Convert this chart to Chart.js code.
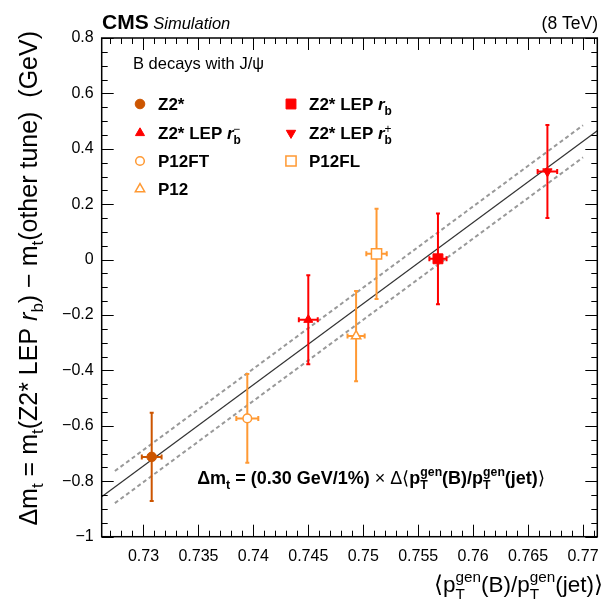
<!DOCTYPE html>
<html>
<head>
<meta charset="utf-8">
<title>Top mass shift vs B fragmentation (CMS Simulation)</title>
<script src="https://cdn.jsdelivr.net/npm/chart.js@4"></script>
<style>
  html, body { margin: 0; padding: 0; background: #fff; }
</style>
</head>
<body>
<canvas id="myChart" width="606" height="605"></canvas>

<script>
// values
var tuneNames  = ['Z2*', 'Z2* LEP r_b^-', 'P12FT', 'P12', 'Z2* LEP r_b', 'Z2* LEP r_b^+', 'P12FL'];
var ptRatio    = [0.73075, 0.74500, 0.73945, 0.74935, 0.75680, 0.76676, 0.75121];
var ptRatioErr = [0.00090, 0.00086, 0.00100, 0.00078, 0.00078, 0.00089, 0.00093];
var deltaMt    = [-0.712, -0.217, -0.573, -0.276, 0.003, 0.318, 0.021];
var deltaMtErr = [0.159, 0.161, 0.160, 0.163, 0.164, 0.168, 0.163];

// straight-line fit and its band (end points)
var fitX     = [0.7262, 0.7713];
var fitY     = [-0.856, 0.465];
var bandX    = [0.7274, 0.7700];
var bandUpY  = [-0.763, 0.485];
var bandLowY = [-0.879, 0.369];

// axes
var xRange = [0.7262, 0.7713];
var yRange = [-1, 0.8];
var xTicks = [0.73, 0.735, 0.74, 0.745, 0.75, 0.755, 0.76, 0.765, 0.77];
var xTickLabels = ['0.73', '0.735', '0.74', '0.745', '0.75', '0.755', '0.76', '0.765', '0.77'];
var yTicks = [-1, -0.8, -0.6, -0.4, -0.2, 0, 0.2, 0.4, 0.6, 0.8];
var yTickLabels = ['\u22121', '\u22120.8', '\u22120.6', '\u22120.4', '\u22120.2', '0', '0.2', '0.4', '0.6', '0.8'];

// marker look per tune
var DARK = '#cc5500', RED = '#ff0000', LIGHT = '#ff9933';
var tuneStyle = {
  'Z2*':           { color: DARK,  shape: 'circle',   rot: 0,   open: false, r: 4.8 },
  'Z2* LEP r_b^-': { color: RED,   shape: 'triangle', rot: 0,   open: false, r: 5.2 },
  'P12FT':         { color: LIGHT, shape: 'circle',   rot: 0,   open: true,  r: 4.3 },
  'P12':           { color: LIGHT, shape: 'triangle', rot: 0,   open: true,  r: 5.4 },
  'Z2* LEP r_b':   { color: RED,   shape: 'rect',     rot: 0,   open: false, r: 7.0 },
  'Z2* LEP r_b^+': { color: RED,   shape: 'triangle', rot: 180, open: false, r: 5.4 },
  'P12FL':         { color: LIGHT, shape: 'rect',     rot: 0,   open: true,  r: 7.2 }
};

var FONT = '"Liberation Sans", Helvetica, Arial, sans-serif';

function fontOf(p) {
  return (p.i ? 'italic ' : '') + (p.b ? 'bold ' : '') + p.s + 'px ' + FONT;
}

// little rich-text writer: parts {t, s, b, i, dy, over}
function drawRich(ctx, parts, x, y, align) {
  var items = [], cx = 0, prev = null;
  parts.forEach(function (p) {
    ctx.font = fontOf(p);
    var w = ctx.measureText(p.t).width;
    var px = cx;
    if (p.over && prev) {
      px = prev.x;
      cx = Math.max(prev.x + prev.w, px + w);
    } else {
      cx = px + w;
    }
    var it = { p: p, x: px, w: w };
    items.push(it);
    prev = it;
  });
  var x0 = align === 'right' ? x - cx : (align === 'center' ? x - cx / 2 : x);
  ctx.textAlign = 'left';
  ctx.textBaseline = 'alphabetic';
  items.forEach(function (it) {
    ctx.font = fontOf(it.p);
    ctx.fillStyle = '#000';
    ctx.fillText(it.p.t, x0 + it.x, y + (it.p.dy || 0));
  });
}

function nameParts(name, s) {
  if (name.indexOf(' r_b') < 0) return [{ t: name, s: s, b: true }];
  var base = name.split(' r_b')[0] + ' ';
  var parts = [
    { t: base, s: s, b: true },
    { t: 'r', s: s, b: true, i: true },
    { t: 'b', s: s * 0.7, b: true, dy: 5 }
  ];
  if (/\^-$/.test(name)) parts.push({ t: '\u2212', s: s * 0.7, b: false, dy: -6, over: true });
  if (/\^\+$/.test(name)) parts.push({ t: '+', s: s * 0.7, b: false, dy: -6, over: true });
  return parts;
}

function ptGen(s, bold, part) {
  // p_T^gen
  return [
    { t: part, s: s, b: bold },
    { t: 'T', s: s * 0.68, b: bold, dy: s * 0.3 },
    { t: 'gen', s: s * 0.68, b: bold, dy: -s * 0.45, over: true }
  ];
}

function drawMarker(ctx, st, x, y) {
  ctx.save();
  ctx.fillStyle = st.open ? '#fff' : st.color;
  ctx.strokeStyle = st.color;
  ctx.lineWidth = st.open ? 1.5 : 1;
  if (Chart.helpers && Chart.helpers.drawPoint) {
    Chart.helpers.drawPoint(ctx, { pointStyle: st.shape, radius: st.r, rotation: st.rot, borderWidth: ctx.lineWidth }, x, y);
  } else {
    ctx.beginPath();
    ctx.arc(x, y, st.r, 0, 2 * Math.PI);
    ctx.fill();
    ctx.stroke();
  }
  ctx.restore();
}

var rootLook = {
  id: 'rootLook',
  beforeDatasetDraw: function (chart, args) {
    var ds = chart.data.datasets[args.index];
    if (ds.tuneIndex === undefined) return;
    var i = ds.tuneIndex, st = tuneStyle[tuneNames[i]];
    var sx = chart.scales.x, sy = chart.scales.y, ctx = chart.ctx;
    var cx = sx.getPixelForValue(ptRatio[i]), cy = sy.getPixelForValue(deltaMt[i]);
    var y1 = sy.getPixelForValue(deltaMt[i] + deltaMtErr[i]);
    var y2 = sy.getPixelForValue(deltaMt[i] - deltaMtErr[i]);
    var x1 = sx.getPixelForValue(ptRatio[i] - ptRatioErr[i]);
    var x2 = sx.getPixelForValue(ptRatio[i] + ptRatioErr[i]);
    ctx.save();
    ctx.strokeStyle = st.color;
    ctx.lineWidth = 2;
    ctx.beginPath();
    ctx.moveTo(cx, y1); ctx.lineTo(cx, y2);
    ctx.moveTo(x1, cy); ctx.lineTo(x2, cy);
    ctx.moveTo(cx - 2, y1); ctx.lineTo(cx + 2, y1);
    ctx.moveTo(cx - 2, y2); ctx.lineTo(cx + 2, y2);
    ctx.moveTo(x1, cy - 2.5); ctx.lineTo(x1, cy + 2.5);
    ctx.moveTo(x2, cy - 2.5); ctx.lineTo(x2, cy + 2.5);
    ctx.stroke();
    ctx.restore();
  },
  afterDraw: function (chart) {
    var ctx = chart.ctx, a = chart.chartArea;
    var sx = chart.scales.x, sy = chart.scales.y;
    ctx.save();

    // frame
    ctx.strokeStyle = '#000';
    ctx.lineWidth = 1.5;
    ctx.strokeRect(a.left, a.top, a.right - a.left, a.bottom - a.top);

    // ticks on all four sides, pointing inwards
    ctx.lineWidth = 1;
    ctx.beginPath();
    var k, v, p, len;
    for (k = Math.ceil(xRange[0] * 1000); k <= Math.floor(xRange[1] * 1000); k++) {
      v = k / 1000;
      len = (k % 5 === 0) ? 12 : 6;
      p = Math.round(sx.getPixelForValue(v)) + 0.5;
      ctx.moveTo(p, a.bottom); ctx.lineTo(p, a.bottom - len);
      ctx.moveTo(p, a.top); ctx.lineTo(p, a.top + len);
    }
    for (k = -20; k <= 16; k++) {
      v = k * 0.05;
      len = (k % 4 === 0) ? 12 : 6;
      p = Math.round(sy.getPixelForValue(v)) + 0.5;
      ctx.moveTo(a.left, p); ctx.lineTo(a.left + len, p);
      ctx.moveTo(a.right, p); ctx.lineTo(a.right - len, p);
    }
    ctx.stroke();

    // header
    drawRich(ctx, [{ t: 'CMS', s: 21, b: true }, { t: ' Simulation', s: 16.5, i: true }], 102, 29, 'left');
    drawRich(ctx, [{ t: '(8 TeV)', s: 17.5 }], 598, 29, 'right');

    // legend
    drawRich(ctx, [{ t: 'B decays with J/\u03c8', s: 16.5 }], 133, 69, 'left');
    var rowY = [104, 133, 161, 189];
    tuneNames.forEach(function (name, i) {
      var col = i < 4 ? 0 : 1, row = i < 4 ? i : i - 4;
      var mx = col === 0 ? 140 : 291, tx = col === 0 ? 158 : 309;
      drawMarker(ctx, tuneStyle[name], mx, rowY[row]);
      drawRich(ctx, nameParts(name, 17), tx, rowY[row] + 6, 'left');
    });

    // fit annotation
    var ann = [{ t: '\u0394m', s: 18, b: true }, { t: 't', s: 12.5, b: true, dy: 5 },
               { t: ' = (0.30 GeV/1%) ', s: 18, b: true }, { t: '\u00d7', s: 18 },
               { t: ' \u0394\u27e8', s: 18 }]
      .concat(ptGen(18, true, 'p'))
      .concat([{ t: '(B)/', s: 18, b: true }])
      .concat(ptGen(18, true, 'p'))
      .concat([{ t: '(jet)', s: 18, b: true }, { t: '\u27e9', s: 18 }]);
    drawRich(ctx, ann, 371, 484, 'center');

    // x title
    var xt = [{ t: '\u27e8', s: 22.5 }]
      .concat(ptGen(22.5, false, 'p'))
      .concat([{ t: '(B)/', s: 22.5 }])
      .concat(ptGen(22.5, false, 'p'))
      .concat([{ t: '(jet)\u27e9', s: 22.5 }]);
    drawRich(ctx, xt, 603, 592, 'right');

    // y title, rotated
    ctx.save();
    ctx.translate(37, 31);
    ctx.rotate(-Math.PI / 2);
    var yt = [{ t: '\u0394m', s: 25 }, { t: 't', s: 17, dy: 6 },
              { t: ' = m', s: 25 }, { t: 't', s: 17, dy: 6 },
              { t: '(Z2* LEP ', s: 25 }, { t: 'r', s: 25, i: true }, { t: 'b', s: 17, dy: 6 },
              { t: ') \u2212 m', s: 25 }, { t: 't', s: 17, dy: 6 },
              { t: '(other tune)  (GeV)', s: 25 }];
    drawRich(ctx, yt, 0, 0, 'right');
    ctx.restore();

    ctx.restore();
  }
};

// datasets: one per tune, then fit line and band
var datasets = tuneNames.map(function (name, i) {
  var st = tuneStyle[name];
  return {
    label: name,
    tuneIndex: i,
    data: [{ x: ptRatio[i], y: deltaMt[i] }],
    pointStyle: st.shape,
    rotation: st.rot,
    pointRadius: st.r,
    backgroundColor: st.open ? '#ffffff' : st.color,
    borderColor: st.color,
    borderWidth: st.open ? 1.5 : 1,
    order: 0
  };
});
datasets.push({
  type: 'line', label: 'fit', showLine: true, order: 2,
  data: fitX.map(function (x, i) { return { x: x, y: fitY[i] }; }),
  borderColor: '#333333', borderWidth: 1.2, pointRadius: 0, fill: false
});
datasets.push({
  type: 'line', label: 'band up', showLine: true, order: 2,
  data: bandX.map(function (x, i) { return { x: x, y: bandUpY[i] }; }),
  borderColor: '#999999', borderWidth: 2, borderDash: [4, 3], pointRadius: 0, fill: false
});
datasets.push({
  type: 'line', label: 'band low', showLine: true, order: 2,
  data: bandX.map(function (x, i) { return { x: x, y: bandLowY[i] }; }),
  borderColor: '#999999', borderWidth: 2, borderDash: [4, 3], pointRadius: 0, fill: false
});

var ctx = document.getElementById('myChart').getContext('2d');
var myChart = new Chart(ctx, {
  type: 'scatter',
  data: { datasets: datasets },
  plugins: [rootLook],
  options: {
    responsive: false,
    animation: false,
    events: [],
    layout: { padding: { left: 0, right: 3, top: 38, bottom: 0 } },
    plugins: { legend: { display: false }, tooltip: { enabled: false } },
    scales: {
      x: {
        type: 'linear', min: xRange[0], max: xRange[1],
        grid: { display: false, drawTicks: false },
        border: { display: false },
        afterBuildTicks: function (axis) { axis.ticks = xTicks.map(function (v) { return { value: v }; }); },
        afterFit: function (s) { s.height = 68.3; s.paddingLeft = 0; s.paddingRight = 0; },
        ticks: {
          padding: 10, maxRotation: 0, autoSkip: false, color: '#000',
          font: { family: FONT, size: 16 },
          callback: function (v, i) { return xTickLabels[i]; }
        }
      },
      y: {
        type: 'linear', min: yRange[0], max: yRange[1],
        grid: { display: false, drawTicks: false },
        border: { display: false },
        afterBuildTicks: function (axis) { axis.ticks = yTicks.map(function (v) { return { value: v }; }); },
        afterFit: function (s) { s.width = 101.7; s.paddingTop = 0; s.paddingBottom = 0; },
        ticks: {
          padding: 8, autoSkip: false, color: '#000',
          font: { family: FONT, size: 16 },
          callback: function (v, i) { return yTickLabels[i]; }
        }
      }
    }
  }
});
</script>
</body>
</html>
